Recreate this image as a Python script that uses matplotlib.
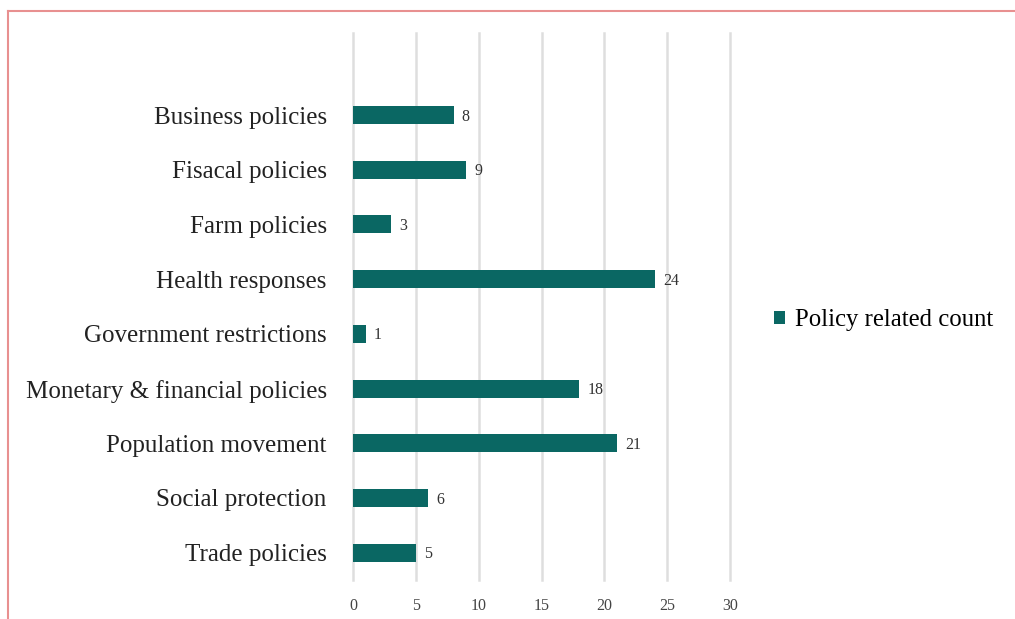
import numpy as np
import matplotlib.pyplot as plt
from matplotlib.lines import Line2D
from matplotlib.patches import Patch

categories = ["Business policies", "Fisacal policies", "Farm policies", "Health responses",
              "Government restrictions", "Monetary & financial policies",
              "Population movement", "Social protection", "Trade policies"]
counts = [8, 9, 3, 24, 1, 18, 21, 6, 5]
xticks = [0, 5, 10, 15, 20, 25, 30]

plt.rcParams['font.family'] = ['Liberation Serif', 'DejaVu Serif']
color = '#0a6763'

fig = plt.figure(figsize=(10.15, 6.19), dpi=100)
ax = fig.add_axes([0.3478, 0.063, 0.3714, 0.8837])

y = np.arange(len(categories))
ax.barh(y, counts, height=0.33, color=color)
for yi, c in zip(y, counts):
    ax.text(c + 0.65, yi + 0.03, str(c), va='center', ha='left', fontsize=11.5, color='#333333')

ax.set_ylim(8.5, -1.5)
ax.set_xlim(0, 30)
ax.set_xticks(xticks)
ax.set_yticks(y)
ax.set_yticklabels(categories, fontsize=18, color='#222222')
ax.tick_params(axis='y', length=0, pad=19)
ax.tick_params(axis='x', length=0, labelsize=11.5, colors='#444444', pad=13)
ax.grid(axis='x', color='#dedede', linewidth=1.8)
for gl in ax.get_xgridlines():
    gl.set_clip_on(False)
ax.set_axisbelow(True)
for s in ax.spines.values():
    s.set_visible(False)

handles = [Patch(facecolor=color, label='Policy related count')]
fig.legend(handles=handles, loc='center left', bbox_to_anchor=(0.741, 0.483),
           frameon=False, fontsize=17.8, handlelength=0.45, handleheight=0.45,
           handletextpad=0.4)

# thin reddish frame on top and left edges
fig.add_artist(Line2D([0.008, 1.0], [0.982, 0.982], color='#e89090', linewidth=1.5,
                      transform=fig.transFigure))
fig.add_artist(Line2D([0.008, 0.008], [0.0, 0.982], color='#e89090', linewidth=1.5,
                      transform=fig.transFigure))

fig.savefig('out.png', dpi=100)
